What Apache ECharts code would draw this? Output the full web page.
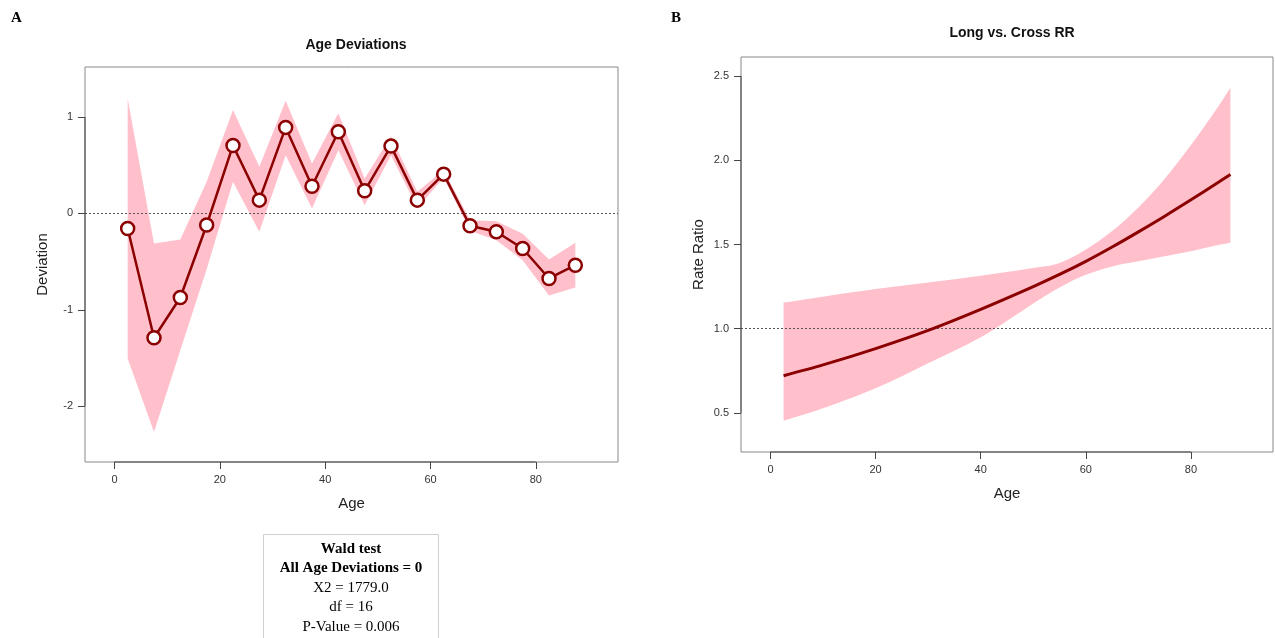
<!DOCTYPE html>
<html>
<head>
<meta charset="utf-8">
<script src="https://cdn.jsdelivr.net/npm/echarts@6/dist/echarts.min.js"></script>
<style>
html,body{margin:0;padding:0;background:#fff;}
#c{width:1275px;height:638px;}
</style>
</head>
<body>
<div id="c"></div>
<script>
// ---------- Panel A: Age Deviations ----------
const ageA = [2.5, 7.5, 12.5, 17.5, 22.5, 27.5, 32.5, 37.5, 42.5, 47.5, 52.5, 57.5, 62.5, 67.5, 72.5, 77.5, 82.5, 87.5];
const devA = [-0.156, -1.29, -0.872, -0.12, 0.706, 0.138, 0.893, 0.283, 0.848, 0.235, 0.699, 0.138, 0.408, -0.128, -0.19, -0.364, -0.675, -0.537];
const upA  = [1.194, -0.312, -0.27, 0.33, 1.073, 0.484, 1.17, 0.519, 1.04, 0.363, 0.80, 0.224, 0.45, -0.07, -0.08, -0.21, -0.478, -0.305];
const loA  = [-1.506, -2.268, -1.42, -0.58, 0.33, -0.19, 0.605, 0.052, 0.657, 0.086, 0.605, 0.06, 0.37, -0.18, -0.277, -0.485, -0.852, -0.768];
const yTicksA = [-2, -1, 0, 1];
const refA = 0;

// ---------- Panel B: Long vs. Cross RR ----------
const ageB = [2.5, 10, 20, 30, 40, 50, 55, 60, 65, 70, 75, 80, 85, 87.5];
const rrB  = [0.721, 0.785, 0.882, 0.99, 1.115, 1.25, 1.322, 1.40, 1.485, 1.575, 1.668, 1.765, 1.865, 1.916];
const upB  = [1.155, 1.19, 1.235, 1.275, 1.315, 1.36, 1.39, 1.47, 1.58, 1.72, 1.89, 2.09, 2.31, 2.43];
const loB  = [0.453, 0.527, 0.646, 0.795, 0.949, 1.15, 1.245, 1.32, 1.37, 1.40, 1.43, 1.46, 1.495, 1.51];
const yTicksB = [0.5, 1.0, 1.5, 2.0, 2.5];
const refB = 1.0;

const xTicks = [0, 20, 40, 60, 80];
const titles = ['Age Deviations', 'Long vs. Cross RR'];
const yNames = ['Deviation', 'Rate Ratio'];
const xName = 'Age';
const panelLetters = ['A', 'B'];
const waldLines = ['Wald test', 'All Age Deviations = 0', 'X2 = 1779.0', 'df = 16', 'P-Value = 0.006'];

// ---------- layout ----------
const SANS = '"Liberation Sans", Arial, Helvetica, sans-serif';
const SERIF = '"Liberation Serif", "Times New Roman", serif';
const RED = '#8b0000';
const PINK = '#ffc0cb';
const X_MIN = -5.6, X_MAX = 95.6;
const A_MIN = -2.58, A_MAX = 1.52;
const B_MIN = 0.268, B_MAX = 2.613;

const chart = echarts.init(document.getElementById('c'), null, {renderer: 'canvas'});

function xAxisFor(g) {
  return {
    type: 'value', gridIndex: g, min: X_MIN, max: X_MAX,
    name: xName, nameLocation: 'middle', nameGap: 34,
    nameTextStyle: {fontSize: 15, color: '#222', fontFamily: SANS},
    axisLine: {show: false, onZero: false}, splitLine: {show: false},
    axisTick: {show: true, length: 7, customValues: xTicks, lineStyle: {color: '#444'}},
    axisLabel: {customValues: xTicks, fontSize: 11, color: '#333', margin: 12, fontFamily: SANS}
  };
}
function yAxisFor(g, mn, mx, ticks, name, fmt) {
  return {
    type: 'value', gridIndex: g, min: mn, max: mx,
    name: name, nameLocation: 'middle', nameGap: 35, nameRotate: 90,
    nameTextStyle: {fontSize: 15, color: '#222', fontFamily: SANS},
    axisLine: {show: false, onZero: false}, splitLine: {show: false},
    axisTick: {show: true, length: 7, customValues: ticks, lineStyle: {color: '#444'}},
    axisLabel: {customValues: ticks, fontSize: 11, color: '#333', margin: 12, fontFamily: SANS, formatter: fmt}
  };
}
function axisSeg(g, pts) {
  return {
    type: 'line', xAxisIndex: g, yAxisIndex: g, data: pts, symbol: 'none', silent: true,
    clip: false, z: 5, lineStyle: {color: '#444', width: 1}, animation: false
  };
}

// Catmull-Rom spline through pixel points -> SVG path segments
function splinePath(pts, startCmd) {
  let d = (startCmd || 'M') + pts[0][0] + ' ' + pts[0][1];
  for (let i = 0; i < pts.length - 1; i++) {
    const p0 = pts[Math.max(0, i - 1)], p1 = pts[i], p2 = pts[i + 1], p3 = pts[Math.min(pts.length - 1, i + 2)];
    const t = 1 / 6;
    const c1x = p1[0] + (p2[0] - p0[0]) * t, c1y = p1[1] + (p2[1] - p0[1]) * t;
    const c2x = p2[0] - (p3[0] - p1[0]) * t, c2y = p2[1] - (p3[1] - p1[1]) * t;
    d += ' C' + c1x + ' ' + c1y + ' ' + c2x + ' ' + c2y + ' ' + p2[0] + ' ' + p2[1];
  }
  return d;
}

const bandA = {
  type: 'custom', xAxisIndex: 0, yAxisIndex: 0, clip: true, z: 1, silent: true,
  data: ageA.map((a, i) => [a, loA[i], upA[i]]),
  renderItem: function (params, api) {
    if (params.dataIndex !== 0) return null;
    const pts = [];
    for (let i = 0; i < ageA.length; i++) pts.push(api.coord([ageA[i], upA[i]]));
    for (let i = ageA.length - 1; i >= 0; i--) pts.push(api.coord([ageA[i], loA[i]]));
    return {type: 'polygon', shape: {points: pts}, style: {fill: PINK, stroke: null}};
  }
};

const bandB = {
  type: 'custom', xAxisIndex: 1, yAxisIndex: 1, clip: true, z: 1, silent: true,
  data: ageB.map((a, i) => [a, loB[i], upB[i]]),
  renderItem: function (params, api) {
    if (params.dataIndex !== 0) return null;
    const up = ageB.map((a, i) => api.coord([a, upB[i]]));
    const lo = ageB.map((a, i) => api.coord([a, loB[i]])).reverse();
    const d = splinePath(up, 'M') + ' L' + lo[0][0] + ' ' + lo[0][1] + splinePath(lo, ' L').replace(/^ L[^C]*/, '') + ' Z';
    return {type: 'path', shape: {pathData: d}, style: {fill: PINK, stroke: null}};
  }
};

const option = {
  animation: false,
  backgroundColor: '#fff',
  title: [
    {text: titles[0], left: 351, top: 33, textAlign: 'center',
     textStyle: {fontSize: 14, fontWeight: 'bold', color: '#111', fontFamily: SANS}},
    {text: titles[1], left: 1007, top: 21, textAlign: 'center',
     textStyle: {fontSize: 14, fontWeight: 'bold', color: '#111', fontFamily: SANS}}
  ],
  grid: [
    {left: 85, top: 67, width: 533, height: 395, show: true, borderColor: '#888', borderWidth: 1, backgroundColor: 'transparent'},
    {left: 741, top: 57, width: 532, height: 395, show: true, borderColor: '#888', borderWidth: 1, backgroundColor: 'transparent'}
  ],
  xAxis: [xAxisFor(0), xAxisFor(1)],
  yAxis: [
    yAxisFor(0, A_MIN, A_MAX, yTicksA, yNames[0], v => String(v)),
    yAxisFor(1, B_MIN, B_MAX, yTicksB, yNames[1], v => v.toFixed(1))
  ],
  series: [
    bandA,
    {
      type: 'line', xAxisIndex: 0, yAxisIndex: 0, z: 3,
      data: ageA.map((a, i) => [a, devA[i]]),
      symbol: 'circle', symbolSize: 13, showSymbol: true,
      lineStyle: {color: RED, width: 2.5},
      itemStyle: {color: '#fff', borderColor: RED, borderWidth: 2.5},
      markLine: {
        silent: true, symbol: 'none', label: {show: false}, z: 2,
        lineStyle: {color: '#555', type: [2, 2], width: 1},
        data: [{yAxis: refA}]
      }
    },
    bandB,
    {
      type: 'line', xAxisIndex: 1, yAxisIndex: 1, z: 3,
      data: ageB.map((a, i) => [a, rrB[i]]), smooth: 0.3,
      symbol: 'none', lineStyle: {color: RED, width: 3},
      markLine: {
        silent: true, symbol: 'none', label: {show: false}, z: 2,
        lineStyle: {color: '#555', type: [2, 2], width: 1},
        data: [{yAxis: refB}]
      }
    },
    // axis line segments (first to last tick, like R axes)
    axisSeg(0, [[xTicks[0], A_MIN], [xTicks[xTicks.length - 1], A_MIN]]),
    axisSeg(0, [[X_MIN, yTicksA[0]], [X_MIN, yTicksA[yTicksA.length - 1]]]),
    axisSeg(1, [[xTicks[0], B_MIN], [xTicks[xTicks.length - 1], B_MIN]]),
    axisSeg(1, [[X_MIN, yTicksB[0]], [X_MIN, yTicksB[yTicksB.length - 1]]])
  ],
  graphic: [
    {type: 'text', left: 11, top: 11, style: {text: panelLetters[0], font: 'bold 15px ' + SERIF, fill: '#000'}},
    {type: 'text', left: 671, top: 11, style: {text: panelLetters[1], font: 'bold 15px ' + SERIF, fill: '#000'}},
    {type: 'rect', shape: {x: 263.5, y: 534.5, width: 175, height: 120},
     style: {fill: '#fff', stroke: '#d0d0d0', lineWidth: 1}},
    ...waldLines.map((t, i) => ({
      type: 'text', x: 351, y: 549 + i * 19.4,
      style: {text: t, font: (i < 2 ? 'bold ' : '') + '15px ' + SERIF, fill: '#000',
              textAlign: 'center', textVerticalAlign: 'middle'}
    }))
  ]
};
chart.setOption(option);
</script>
</body>
</html>
